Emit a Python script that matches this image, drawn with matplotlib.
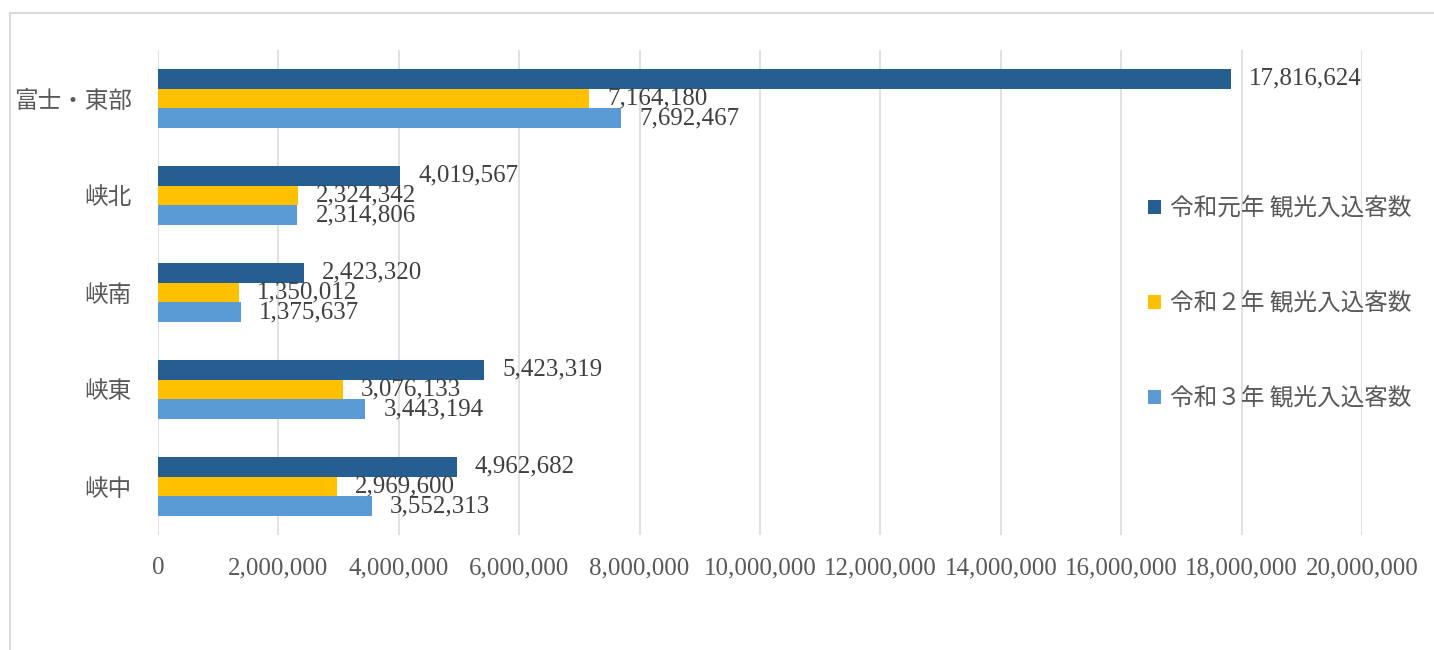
import matplotlib.pyplot as plt
from matplotlib.lines import Line2D
from matplotlib.patches import Patch
import numpy as np

# 地域別 観光入込客数
regions = ['富士・東部', '峡北', '峡南', '峡東', '峡中']
series_names = ['令和元年 観光入込客数', '令和２年 観光入込客数', '令和３年 観光入込客数']
r1 = [17816624, 4019567, 2423320, 5423319, 4962682]
r2 = [7164180, 2324342, 1350012, 3076133, 2969600]
r3 = [7692467, 2314806, 1375637, 3443194, 3552313]
colors = ['#255E91', '#FFC000', '#5B9BD5']
xticks = np.arange(0, 20000001, 2000000)

jp_font = ['Noto Sans CJK JP', 'DejaVu Sans']
num_font = ['Liberation Serif', 'DejaVu Serif']
text_gray = '#595959'

fig = plt.figure(figsize=(14.34, 6.5), dpi=100)
ax = fig.add_axes([158 / 1434, 1 - 535 / 650, 1204 / 1434, 485 / 650])

y = np.arange(len(regions))
h = 0.206
for k, (vals, c) in enumerate(zip([r1, r2, r3], colors)):
    bars = ax.barh(y + (k - 1) * h, vals, height=h, color=c, zorder=3)
    ax.bar_label(bars, labels=[f'{v:,}' for v in vals], padding=13,
                 fontsize=18, family=num_font, color='#404040', zorder=4)

ax.set_ylim(len(regions) - 0.5, -0.5)
ax.set_xlim(0, 20000000)
ax.set_xticks(xticks)
ax.set_xticklabels([f'{v:,}' for v in xticks], family=num_font, fontsize=18, color=text_gray)
ax.set_yticks(y)
ax.set_yticklabels(regions, family=jp_font, fontsize=17, color=text_gray)
ax.tick_params(axis='x', length=0, pad=16)
ax.tick_params(axis='y', length=0, pad=19)
ax.grid(axis='x', color='#d9d9d9', linewidth=1.1, zorder=0)
for s in ax.spines.values():
    s.set_visible(False)

handles = [Patch(facecolor=c) for c in colors]
leg = ax.legend(handles, series_names, loc='center left',
                bbox_to_anchor=(1136 / 1434, 1 - 304 / 650), bbox_transform=fig.transFigure,
                frameon=False, prop={'family': jp_font, 'size': 17},
                handlelength=0.55, handleheight=0.55, handletextpad=0.4,
                labelspacing=3.05, borderpad=0)
for t in leg.get_texts():
    t.set_color(text_gray)

# chart frame (top and left edges)
fig.add_artist(Line2D([10 / 1434, 1], [1 - 13 / 650] * 2, color='#d9d9d9', lw=1.5))
fig.add_artist(Line2D([10 / 1434] * 2, [0, 1 - 13 / 650], color='#d9d9d9', lw=1.5))

fig.savefig('out.png', dpi=100)
